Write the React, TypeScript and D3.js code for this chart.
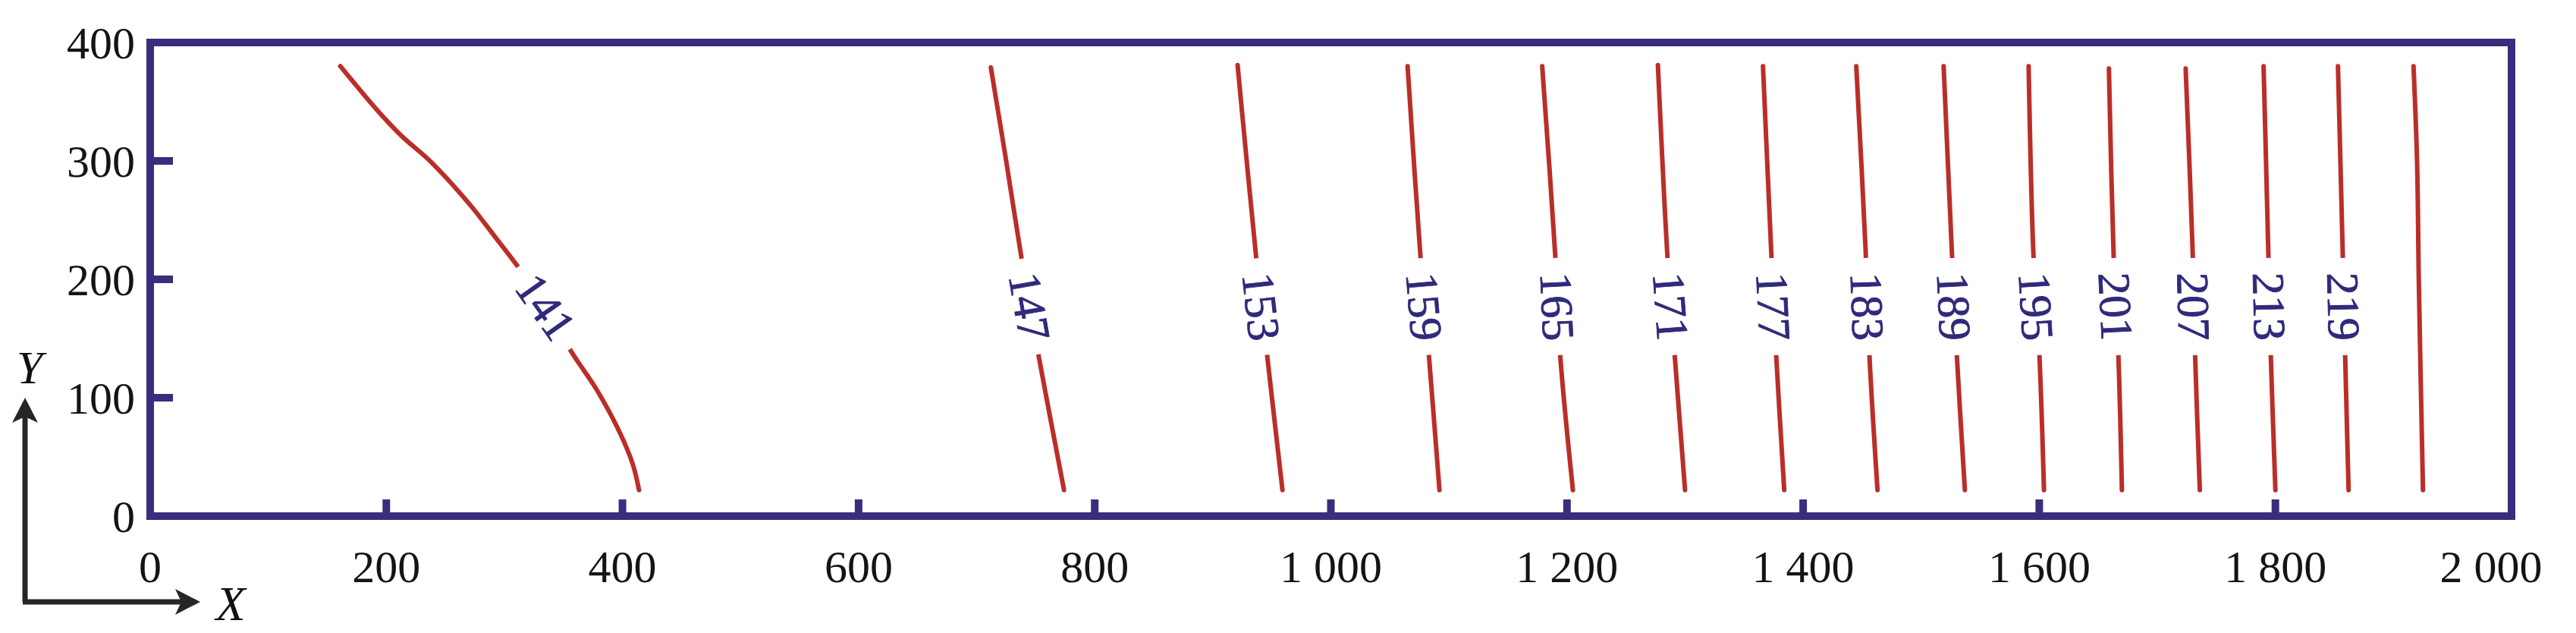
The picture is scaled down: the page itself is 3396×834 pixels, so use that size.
import * as d3 from 'd3'

const xTicks = [0, 200, 400, 600, 800, 1000, 1200, 1400, 1600, 1800, 2000]
const yTicks = [0, 100, 200, 300, 400]

// contour levels, the last one carries no label in the figure
const levels = [141, 147, 153, 159, 165, 171, 177, 183, 189, 195, 201, 207, 213, 219, 225]
const labelledLevels = [141, 147, 153, 159, 165, 171, 177, 183, 189, 195, 201, 207, 213, 219]

// [x, y] points, top to bottom
const line141 = [[161, 380], [193, 342], [213, 321], [238, 299], [270, 264], [292, 236], [312, 210], [336, 176], [356, 140], [378, 107], [398, 70], [409, 43], [414, 22]]
const line147 = [[712, 379], [725, 300], [738, 218], [752, 138], [774, 22]]
const line153 = [[921, 381], [937, 216], [946, 136], [959, 22]]
const line159 = [[1065, 380], [1076, 218], [1083, 136], [1092, 22]]
const line165 = [[1179, 380], [1190, 221], [1194, 139], [1205, 22]]
const line171 = [[1277, 381], [1285, 221], [1291, 139], [1300, 22]]
const line177 = [[1366, 380], [1373, 223], [1377, 139], [1384, 22]]
const line183 = [[1445, 380], [1453, 223], [1456, 139], [1463, 22]]
const line189 = [[1519, 380], [1526, 223], [1530, 139], [1537, 22]]
const line195 = [[1591, 380], [1595, 223], [1600, 139], [1604, 22]]
const line201 = [[1659, 378], [1663, 220], [1667, 136], [1670, 22]]
const line207 = [[1724, 378], [1730, 221], [1732, 136], [1736, 22]]
const line213 = [[1790, 380], [1794, 223], [1796, 139], [1800, 22]]
const line219 = [[1853, 380], [1857, 223], [1859, 139], [1862, 22]]
const line225 = [[1917, 380], [1920, 299], [1921.5, 197], [1925, 22]]

const contours = [line141, line147, line153, line159, line165, line171, line177, line183, line189, line195, line201, line207, line213, line219, line225]

const labelY = 177

const W = 3396
const H = 834
const frameColor = '#3a2d7e'
const lineColor = '#bb2e28'
const serif = "'Liberation Serif', 'DejaVu Serif', serif"

function App() {
    const x = d3.scaleLinear().domain([0, 2000]).range([198, 3311])
    const y = d3.scaleLinear().domain([0, 400]).range([680, 56])

    const fmt = d3.formatLocale({ decimal: '.', thousands: ' ', grouping: [3], currency: ['', ''] }).format(',')

    const valueLine = d3
        .line<number[]>()
        .x((d) => x(d[0]))
        .y((d) => y(d[1]))
        .curve(d3.curveCatmullRom.alpha(0.5))

    // where the label sits on a contour, and the angle of the contour there
    const labelAt = (pts: number[][]) => {
        for (let i = 0; i < pts.length - 1; i++) {
            const a = pts[i]
            const b = pts[i + 1]
            if ((a[1] - labelY) * (b[1] - labelY) <= 0) {
                const t = (labelY - a[1]) / (b[1] - a[1])
                const lx = a[0] + t * (b[0] - a[0])
                const ang = (Math.atan2(y(b[1]) - y(a[1]), x(b[0]) - x(a[0])) * 180) / Math.PI
                return { px: x(lx), py: y(labelY), ang }
            }
        }
        return { px: 0, py: 0, ang: 90 }
    }

    const x0 = x(0)
    const x1 = x(2000)
    const y0 = y(0)
    const y1 = y(400)

    return (
        <svg width={W} height={H} style={{ position: 'absolute', left: 0, top: 0, background: '#fff' }}>
            <rect x={0} y={0} width={W} height={H} fill="#fff" />

            {/* contours */}
            {contours.map((pts, i) => (
                <path key={levels[i]} d={valueLine(pts) || ''} fill="none" stroke={lineColor} strokeWidth={6} strokeLinecap="round" />
            ))}

            {/* contour labels with a white gap */}
            {labelledLevels.map((lv) => {
                const pos = labelAt(contours[levels.indexOf(lv)])
                return (
                    <g key={'l' + lv} transform={`translate(${pos.px},${pos.py}) rotate(${pos.ang})`}>
                        <rect x={-64} y={-30} width={128} height={60} fill="#fff" />
                        <text textAnchor="middle" dy="0.35em" fontFamily={serif} fontSize={60} fill="#2f2a7a" stroke="#2f2a7a" strokeWidth={0.8}>
                            {lv}
                        </text>
                    </g>
                )
            })}

            {/* frame */}
            <rect x={x0} y={y1} width={x1 - x0} height={y0 - y1} fill="none" stroke={frameColor} strokeWidth={10} />

            {/* inward ticks */}
            {xTicks.slice(1, -1).map((t) => (
                <line key={'xt' + t} x1={x(t)} x2={x(t)} y1={y0} y2={y0 - 22} stroke={frameColor} strokeWidth={10} />
            ))}
            {yTicks.slice(1, -1).map((t) => (
                <line key={'yt' + t} x1={x0} x2={x0 + 30} y1={y(t)} y2={y(t)} stroke={frameColor} strokeWidth={10} />
            ))}

            {/* tick labels */}
            {xTicks.map((t, i) => (
                <text
                    key={'xl' + t}
                    x={x(t) + (i === xTicks.length - 1 ? -27 : 0)}
                    y={767}
                    textAnchor="middle"
                    fontFamily={serif}
                    fontSize={60}
                    fill="#141414"
                >
                    {fmt(t)}
                </text>
            ))}
            {yTicks.map((t) => (
                <text key={'yl' + t} x={178} y={y(t) + 21} textAnchor="end" fontFamily={serif} fontSize={60} fill="#141414">
                    {fmt(t)}
                </text>
            ))}

            {/* axis direction arrows */}
            <g stroke="#262626" strokeWidth={7} fill="none">
                <line x1={33} y1={793} x2={33} y2={548} />
                <line x1={30} y1={793} x2={240} y2={793} />
            </g>
            <g fill="#262626">
                <polygon points="33,524 16,557 33,549 50,557" />
                <polygon points="264,793 231,776 239,793 231,810" />
            </g>
            <text x={39} y={505} textAnchor="middle" fontFamily={serif} fontStyle="italic" fontSize={62} fill="#111">
                Y
            </text>
            <text x={304} y={817} textAnchor="middle" fontFamily={serif} fontStyle="italic" fontSize={64} fill="#111">
                X
            </text>
        </svg>
    )
}

export default App
